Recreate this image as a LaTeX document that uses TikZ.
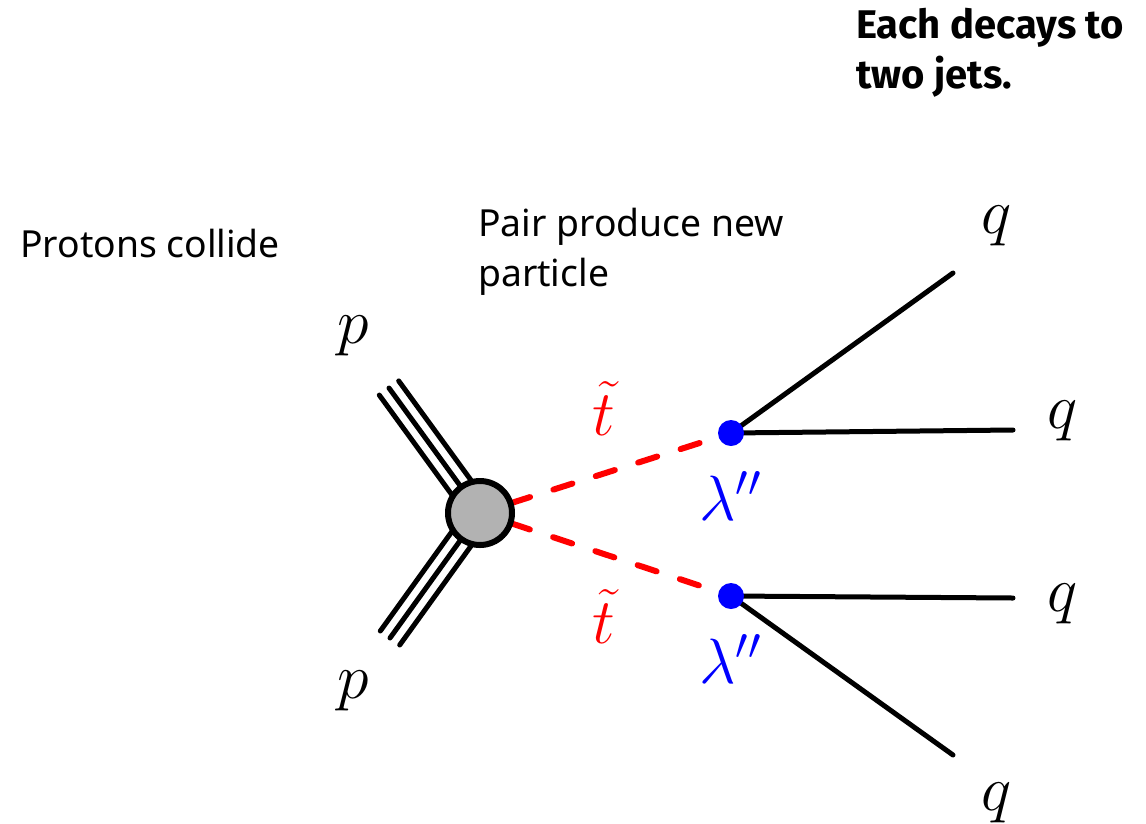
\documentclass[tikz,border=0pt]{standalone}
\usepackage{fix-cm}
\usepackage{fontspec}
\newfontfamily\lblfont{Noto Sans}
\newfontfamily\hdrfont{Fira Sans}
\pgfdeclarelayer{bg}
\pgfsetlayers{bg,main}
\tikzset{
  lbl/.style={font=\fontsize{37.3}{50}\selectfont\lblfont, inner sep=0pt, anchor=base west, align=left},
  hdr/.style={font=\fontsize{40}{50}\selectfont\hdrfont\bfseries, inner sep=0pt, anchor=base west, align=left},
  mlabel/.style={font=\fontsize{64}{70}\selectfont, inner sep=0pt, anchor=base},
  jet/.style={line width=5pt, line cap=round},
  proton/.style={line width=5pt, line cap=round},
  stopline/.style={red, line width=6pt, line cap=round, dash pattern=on 20pt off 24.5pt, dash phase=12pt},
  blob/.style={circle, draw, line width=6pt, fill=black!30, minimum size=64pt, inner sep=0pt},
  vertex/.style={circle, fill=blue, minimum size=26pt, inner sep=0pt},
}
\begin{document}
\begin{tikzpicture}[x=1pt,y=-1pt]
\useasboundingbox (0,0) rectangle (1146,823);
% texts
\node[lbl] (t1) at (20,257) {Protons collide};
\node[lbl] (t2) at (478,286) {Pair produce new\\particle};
\node[hdr] (t3) at (856,88) {Each decays to\\two jets.};
% vertices
\node[blob] (blob) at (480,513) {};
\node[vertex] (v1) at (731,433) {};
\node[vertex] (v2) at (731,596) {};
% end points
\coordinate (pu) at (389,388);
\coordinate (pd) at (390,638);
\coordinate (q1) at (953,273);
\coordinate (q2) at (1013,430);
\coordinate (q3) at (1013,598);
\coordinate (q4) at (953,755);
% labels
\node[mlabel] (lp1) at (353,343) {$p$};
\node[mlabel] (lp2) at (353,698) {$p$};
\node[mlabel, text=red] (lt1) at (604,435) {$\tilde t$};
\node[mlabel, text=red] (lt2) at (604,643) {$\tilde t$};
\node[mlabel, text=blue] (ll1) at (730,520) {$\lambda''$};
\node[mlabel, text=blue] (ll2) at (730,683) {$\lambda''$};
\node[mlabel] (lq1) at (997,233) {$q$};
\node[mlabel] (lq2) at (1063,428) {$q$};
\node[mlabel] (lq3) at (1063,611) {$q$};
\node[mlabel] (lq4) at (997,810) {$q$};
\begin{pgfonlayer}{bg}
  % incoming protons
  \foreach \s in {-1,0,1} {
    \draw[proton] ([shift={(9.7*\s,-7.1*\s)}]pu) -- ([shift={(9.7*\s,-7.1*\s)}]blob.center);
    \draw[proton] ([shift={(9.7*\s,7.0*\s)}]pd) -- ([shift={(9.7*\s,7.0*\s)}]blob.center);
  }
  % stops
  \draw[stopline] (blob.center) -- (v1.center);
  \draw[stopline] (blob.center) -- (v2.center);
  % jets
  \draw[jet] (v1.center) -- (q1);
  \draw[jet] (v1.center) -- (q2);
  \draw[jet] (v2.center) -- (q3);
  \draw[jet] (v2.center) -- (q4);
\end{pgfonlayer}
\end{tikzpicture}
\end{document}
